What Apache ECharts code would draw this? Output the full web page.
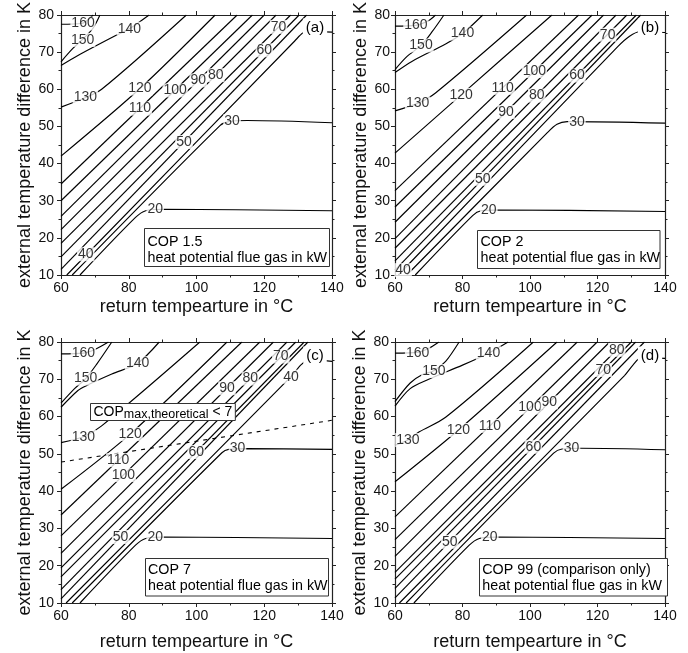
<!DOCTYPE html>
<html><head><meta charset="utf-8">
<script src="https://cdn.jsdelivr.net/npm/echarts@6/dist/echarts.min.js"></script>
<style>html,body{margin:0;padding:0;background:#fff}#c{width:688px;height:653px}</style>
</head><body><div id="c"></div>
<script>
// ---------- DATA ----------
const xTitle = 'return tempearture in °C';
const yTitle = 'external temperature difference in K';
const xTicks = [60, 80, 100, 120, 140];
const yTicks = [10, 20, 30, 40, 50, 60, 70, 80];
const panelTags = ['(a)', '(b)', '(c)', '(d)'];
const boxTitles = ['COP 1.5', 'COP 2', 'COP 7', 'COP 99 (comparison only)'];
const boxSubtitle = 'heat potential flue gas in kW';

// contour polylines: [level, [[return temp, temp difference], ...]]
const linesA = [
 [160, [[60,77.5],[66,77.7],[69.5,80]]],
 [150, [[60,67.4],[63.5,71],[67,74],[69.5,76.5],[71.5,80]]],
 [140, [[60,66.4],[65,69.1],[76,74.4],[80.2,76.3],[86,80]]],
 [130, [[60,55.2],[66,57.3],[72,60],[97,80]]],
 [120, [[60,42],[83.3,60.2],[105.5,80]]],
 [110, [[60,34.5],[112,80]]],
 [100, [[60,30],[116.5,80]]],
 [90,  [[60,25.8],[120,80]]],
 [80,  [[60,22.2],[123.5,80]]],
 [70,  [[60,18.5],[127.8,80]]],
 [60,  [[60,14.9],[130.3,80]]],
 [50,  [[60,11.5],[132.5,80]]],
 [40,  [[61.7,10],[129,73],[131.5,75.2],[134,75.6],[140,75.4]]],
 [30,  [[63.3,10],[107,50.3],[109.5,51.3],[115,51.6],[140,51]]],
 [20,  [[65.6,10],[82,25.5],[85,27.3],[90,27.7],[140,27.3]]]
];
const labelsA = [[66.5,77.7,'160'],[66.4,73.3,'150'],[80.2,76.3,'140'],[67.2,57.8,'130'],[83.3,60.2,'120'],
 [83.3,54.8,'110'],[93.7,59.7,'100'],[100.5,62.4,'90'],[105.7,63.8,'80'],[124.2,76.8,'70'],[120,70.5,'60'],
 [96.3,45.8,'50'],[67.3,15.6,'40'],[110.5,51.4,'30'],[87.8,27.6,'20']];

const linesB = [
 [160, [[60,77],[66.2,77.2],[70,78.5],[72,80]]],
 [150, [[60,65.3],[63.5,68.8],[67.7,71.8],[71,75.5],[74.5,80]]],
 [140, [[60,64.5],[65,67.5],[75,72.2],[80,75],[86,80]]],
 [130, [[60,54.2],[66.7,56.2],[72,59],[99,80]]],
 [120, [[60,42.8],[79.6,58.5],[106.5,80]]],
 [110, [[60,32.7],[114.4,80]]],
 [100, [[60,28.3],[118.4,80]]],
 [90,  [[60,24.2],[121.8,80]]],
 [80,  [[60,19.8],[125.5,80]]],
 [70,  [[60,17.2],[128.7,80]]],
 [60,  [[60,13.8],[131.5,80]]],
 [50,  [[60,11.3],[132.8,80]]],
 [40,  [[61,10],[126,71.5],[129.5,74.3],[132.5,75.5],[140,75.3]]],
 [30,  [[63.5,10],[105,48.2],[108,50.6],[111,51.3],[140,50.9]]],
 [20,  [[66,10],[83,26],[85.5,27.3],[90,27.5],[140,27.1]]]
];
const labelsB = [[66.2,77.2,'160'],[67.7,71.8,'150'],[80,75,'140'],[66.7,56.2,'130'],[79.6,58.5,'120'],
 [91.9,60.4,'110'],[101.3,64.9,'100'],[92.9,53.9,'90'],[102,58.3,'80'],[123,74.7,'70'],[113.9,63.7,'60'],
 [86,35.9,'50'],[62.4,11.3,'40'],[113.9,51.2,'30'],[87.8,27.4,'20']];

const linesC = [
 [160, [[60,76.8],[66.6,77],[70,78],[74,80]]],
 [150, [[60,63.6],[64,67.5],[67.3,70.2],[70.5,74],[75,80]]],
 [140, [[60,62.5],[65,67],[67.5,68.3],[75,71.4],[82.6,74.3],[89,80]]],
 [130, [[60,53],[66.6,54.6],[72,57.5],[101,80]]],
 [120, [[60,40.5],[80.4,55.3],[109,80]]],
 [110, [[60,33.6],[113.4,80]]],
 [100, [[60,28],[118.7,80]]],
 [90,  [[60,23.3],[122.7,80]]],
 [80,  [[60,19.4],[126.7,80]]],
 [70,  [[60,17],[129.3,80]]],
 [60,  [[60,13.6],[131.8,80]]],
 [50,  [[60,11.1],[132.9,80]]],
 [40,  [[61.5,10],[127.9,70.7],[131,74],[133.5,75.2],[140,74.8]]],
 [30,  [[63.3,10],[107.5,50.3],[109.5,51.2],[115,51.4],[140,51.2]]],
 [20,  [[65.6,10],[82,25.5],[85,27.3],[90,27.7],[140,27.3]]]
];
const labelsC = [[66.6,77,'160'],[67.3,70.2,'150'],[82.6,74.3,'140'],[66.6,54.6,'130'],[80.4,55.3,'120'],
 [76.9,48.3,'110'],[78.4,44.3,'100'],[109,67.6,'90'],[115.9,70.2,'80'],[124.9,76.1,'70'],[99.9,50.5,'60'],
 [77.6,27.7,'50'],[127.9,70.7,'40'],[112.1,51.4,'30'],[87.8,27.7,'20']];
const copLimitC = [[60,47.8],[140,59]];

const linesD = [
 [160, [[60,77],[66.7,77.2],[70,78.3],[73,80]]],
 [150, [[60,64],[64.5,69],[68,71.2],[71.5,72.3],[75,74.8],[79,80]]],
 [140, [[60,62.8],[64.5,67.5],[70,70],[80,73.8],[87.7,77],[93.5,80]]],
 [130, [[60,52.3],[63.8,53.7],[67.2,55.9],[75,59.8],[101,80]]],
 [120, [[60,42.5],[78.8,56.4],[108,80]]],
 [110, [[60,33.1],[114,80]]],
 [100, [[60,27],[119.9,80]]],
 [90,  [[60,22.5],[123.6,80]]],
 [80,  [[60,18.2],[128,80]]],
 [70,  [[60,16.4],[130,80]]],
 [60,  [[60,13.9],[131.3,80]]],
 [50,  [[60,11.4],[133.9,80]]],
 [40,  [[61.3,10],[128,71],[130.5,73.8],[133,75.8],[140,75.6]]],
 [30,  [[63.3,10],[107,50.2],[109.5,51.3],[115,51.5],[140,51.1]]],
 [20,  [[65.6,10],[82,25.5],[85,27.3],[90,27.7],[140,27.3]]]
];
const labelsD = [[66.7,77,'160'],[71.5,72.2,'150'],[87.7,77,'140'],[63.8,53.7,'130'],[78.8,56.4,'120'],
 [88.1,57.5,'110'],[100,62.4,'100'],[105.7,63.8,'90'],[125.7,77.9,'80'],[121.7,72.5,'70'],[101,51.9,'60'],
 [76.2,26.4,'50'],[112.3,51.4,'30'],[88.1,27.7,'20']];

// ---------- LAYOUT ----------
const FONT = "'Liberation Sans', Arial, Helvetica, sans-serif";
const INK = '#111';
const grids = [
 {left:61, top:15, width:271, height:260},
 {left:395, top:15, width:270, height:260},
 {left:61, top:342, width:271, height:261},
 {left:395, top:342, width:270, height:261}
];
const yNameGap = [24, 21, 24, 22];
const xNameGap = [23, 23, 30, 30];
const yLabelMargin = [7, 5, 7, 6];
const panels = [[linesA, labelsA], [linesB, labelsB], [linesC, labelsC], [linesD, labelsD]];

const xAxes = [], yAxes = [], series = [];
grids.forEach((g, i) => {
  ['bottom', 'top'].forEach(pos => {
    const main = pos === 'bottom';
    xAxes.push({
      type: 'value', gridIndex: i, position: pos, min: xTicks[0], max: xTicks[xTicks.length - 1],
      interval: xTicks[1] - xTicks[0],
      axisLine: {show: true, onZero: false, lineStyle: {color: '#222', width: 1.2}},
      axisTick: {show: true, inside: false, length: 4, lineStyle: {color: '#222'}},
      minorTick: {show: true, splitNumber: 2, length: 2.5, lineStyle: {color: '#222'}},
      splitLine: {show: false}, minorSplitLine: {show: false},
      axisLabel: {show: main, fontSize: 14, color: INK, fontFamily: FONT, margin: 6},
      name: main ? xTitle : '', nameLocation: 'middle', nameGap: xNameGap[i],
      nameTextStyle: {fontSize: 18, color: INK, fontFamily: FONT}
    });
  });
  ['left', 'right'].forEach(pos => {
    const main = pos === 'left';
    yAxes.push({
      type: 'value', gridIndex: i, position: pos, min: yTicks[0], max: yTicks[yTicks.length - 1],
      interval: yTicks[1] - yTicks[0],
      axisLine: {show: true, onZero: false, lineStyle: {color: '#222', width: 1.2}},
      axisTick: {show: true, inside: false, length: 4, lineStyle: {color: '#222'}},
      minorTick: {show: true, splitNumber: 2, length: 2.5, lineStyle: {color: '#222'}},
      splitLine: {show: false}, minorSplitLine: {show: false},
      axisLabel: {show: main, fontSize: 14, color: INK, fontFamily: FONT, margin: yLabelMargin[i]},
      name: main ? yTitle : '', nameLocation: 'middle', nameGap: yNameGap[i], nameRotate: 90,
      nameTextStyle: {fontSize: 18, color: INK, fontFamily: FONT}
    });
  });
  const [lines, labels] = panels[i];
  lines.forEach(([lvl, pts]) => {
    series.push({
      type: 'line', name: 'p' + i + '_' + lvl, xAxisIndex: 2 * i, yAxisIndex: 2 * i, data: pts,
      symbol: 'none', smooth: 0.3, lineStyle: {color: '#000', width: 1.15}, silent: true, z: 2
    });
  });
  series.push({
    type: 'scatter', xAxisIndex: 2 * i, yAxisIndex: 2 * i, data: labels, symbolSize: 1,
    itemStyle: {color: 'rgba(0,0,0,0)'}, silent: true, z: 4,
    label: {show: true, position: 'inside', formatter: p => p.value[2], fontSize: 14, color: '#000',
      fontFamily: FONT, backgroundColor: '#fff', padding: [0, 1], lineHeight: 14}
  });
});
series.push({
  type: 'line', xAxisIndex: 4, yAxisIndex: 4, data: copLimitC, symbol: 'none', silent: true, z: 3,
  lineStyle: {color: '#000', width: 1.1, type: [4, 5]}
});

// ---------- GRAPHIC (legend boxes, panel tags) ----------
const boxes = [
 {x: 144.5, y: 228.5, w: 185, h: 38, tx: 147.5, ty: 233.5},
 {x: 477.5, y: 230.5, w: 182.5, h: 38, tx: 480.5, ty: 234},
 {x: 145.5, y: 558.5, w: 183, h: 37.5, tx: 148, ty: 561.5},
 {x: 479.5, y: 558.5, w: 188, h: 37.5, tx: 482.3, ty: 561.5}
];
const tagPos = [[315, 28], [650, 28], [315, 356], [650, 356]];
const graphic = [];
boxes.forEach((b, i) => {
  graphic.push({type: 'rect', z: 10, shape: {x: b.x, y: b.y, width: b.w, height: b.h},
    style: {fill: '#fff', stroke: '#333', lineWidth: 1}});
  graphic.push({type: 'text', z: 11, x: b.tx, y: b.ty,
    style: {text: boxTitles[i] + '\n' + boxSubtitle, fill: '#000', font: '14.3px ' + FONT, lineHeight: 16.3,
      align: 'left', verticalAlign: 'top'}});
  graphic.push({type: 'text', z: 11, x: tagPos[i][0], y: tagPos[i][1],
    style: {text: panelTags[i], fill: '#000', font: '15px ' + FONT, align: 'center', verticalAlign: 'middle',
      backgroundColor: '#fff', padding: [2, 3]}});
});
// COP_max,theoretical < 7 box (panel c)
const ctx = document.createElement('canvas').getContext('2d');
function tw(t, size) { ctx.font = size + 'px ' + FONT; return ctx.measureText(t).width; }
const capMain = 'COP', capSub = 'max,theoretical', capEnd = ' < 7';
const cx0 = 93.5, cyMain = 411.8, cySub = 415;
const w1 = tw(capMain, 14), w2 = tw(capSub, 12.5), w3 = tw(capEnd, 14);
graphic.push({type: 'rect', z: 10, shape: {x: 90.5, y: 403.5, width: w1 + w2 + w3 + 6, height: 17},
  style: {fill: '#fff', stroke: '#333', lineWidth: 1}});
graphic.push({type: 'text', z: 11, x: cx0, y: cyMain, style: {text: capMain, fill: '#000', font: '14px ' + FONT, verticalAlign: 'middle'}});
graphic.push({type: 'text', z: 11, x: cx0 + w1, y: cySub, style: {text: capSub, fill: '#000', font: '12.5px ' + FONT, verticalAlign: 'middle'}});
graphic.push({type: 'text', z: 11, x: cx0 + w1 + w2, y: cyMain, style: {text: capEnd, fill: '#000', font: '14px ' + FONT, verticalAlign: 'middle'}});

const chart = echarts.init(document.getElementById('c'), null, {renderer: 'canvas'});
chart.setOption({
  backgroundColor: '#fff',
  animation: false,
  grid: grids.map(g => Object.assign({containLabel: false, outerBoundsMode: 'none'}, g)),
  xAxis: xAxes,
  yAxis: yAxes,
  series: series,
  graphic: graphic
});
</script>
</body></html>
